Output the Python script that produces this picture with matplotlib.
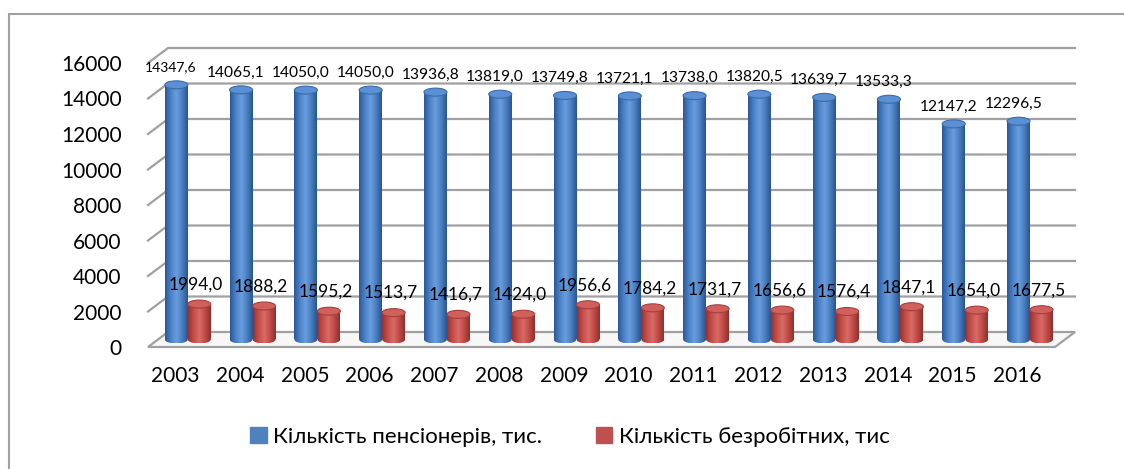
import numpy as np
import matplotlib
matplotlib.use('Agg')
import matplotlib.pyplot as plt
from matplotlib.patches import Ellipse, Rectangle, Polygon, Patch
from matplotlib.colors import LinearSegmentedColormap

# дані
years = ['2003', '2004', '2005', '2006', '2007', '2008', '2009',
         '2010', '2011', '2012', '2013', '2014', '2015', '2016']
pensioners = [14347.6, 14065.1, 14050.0, 14050.0, 13936.8, 13819.0, 13749.8,
              13721.1, 13738.0, 13820.5, 13639.7, 13533.3, 12147.2, 12296.5]
unemployed = [1994.0, 1888.2, 1595.2, 1513.7, 1416.7, 1424.0, 1956.6,
              1784.2, 1731.7, 1656.6, 1576.4, 1847.1, 1654.0, 1677.5]
y_ticks = list(range(0, 16001, 2000))
legend_labels = ['Кількість пенсіонерів, тис.', 'Кількість безробітних, тис']

plt.rcParams['font.family'] = ['Lato', 'Open Sans', 'DejaVu Sans']

W, H = 1124, 469
fig = plt.figure(figsize=(W / 100, H / 100), dpi=100)

# область графіка в пікселях (передній край "3d" підлоги)
px_left, px_right, px_zero, px_top = 148, 1055, 347, 30
px_per_val = 17.75 / 1000
ymax = (px_zero - px_top) / px_per_val
ax = fig.add_axes([px_left / W, (H - px_zero) / H,
                   (px_right - px_left) / W, (px_zero - px_top) / H])
n = len(years)
cat_px = (px_right - px_left) / n
dx = 20 / cat_px          # глибина по x
dy = 15 / px_per_val      # глибина по y
grid_c = '#a0a0a0'

# задня стінка + сітка
for t in y_ticks[1:]:
    ax.plot([-0.5, -0.5 + dx, n - 0.5 + dx], [t, t + dy, t + dy],
            color=grid_c, lw=1.6, clip_on=False, zorder=1)

# підлога
floor = Polygon([(-0.5, 0), (n - 0.5, 0), (n - 0.5 + dx, dy), (-0.5 + dx, dy)],
                closed=True, facecolor='#f7f7f7', edgecolor=grid_c, lw=1.6,
                clip_on=False, zorder=1)
ax.add_patch(floor)

blue_cmap = LinearSegmentedColormap.from_list(
    'b', ['#2c5894', '#4b82c8', '#6a9ddd', '#4a7fc2', '#2a5590'])
red_cmap = LinearSegmentedColormap.from_list(
    'r', ['#98322f', '#c44e4a', '#d86b67', '#c04a46', '#8f302d'])
grad = np.linspace(0, 1, 64).reshape(1, -1)
w = 0.355
eh = 8 / px_per_val


def cylinder(x, bottom, height, cmap, top_c, edge_c, z):
    rect = Rectangle((x - w / 2, bottom), w, height, facecolor='none',
                     edgecolor='none')
    ax.add_patch(rect)
    im = ax.imshow(grad, extent=[x - w / 2, x + w / 2, bottom - eh / 2, bottom + height],
                   aspect='auto', cmap=cmap, zorder=z)
    im.set_clip_path(rect)
    bot = Ellipse((x, bottom), w, eh, facecolor='none', edgecolor='none')
    ax.add_patch(bot)
    im2 = ax.imshow(grad, extent=[x - w / 2, x + w / 2, bottom - eh / 2, bottom + eh / 2],
                    aspect='auto', cmap=cmap, zorder=z)
    im2.set_clip_path(bot)
    ax.add_patch(Ellipse((x, bottom + height), w, eh, facecolor=top_c,
                         edgecolor=edge_c, lw=0.8, zorder=z + 0.1))


base = dy / 2
for i in range(n):
    xc = i + dx / 2 - 0.04
    xb, xr = xc - w / 2, xc + w / 2
    cylinder(xb, base, pensioners[i], blue_cmap, '#5b90d4', '#3a6aab', 3)
    cylinder(xr, base, unemployed[i], red_cmap, '#d0605c', '#a83e3b', 4)
    # перша підпис у оригіналі трохи дрібніша
    ax.text(xb - 0.08, pensioners[i] + base + 980, f'{pensioners[i]:.1f}'.replace('.', ','),
            ha='center', va='center', fontsize=10 if i == 0 else 11.2,
            color='black', zorder=6)
    ax.text(xr - 0.05, unemployed[i] + base + 1100, f'{unemployed[i]:.1f}'.replace('.', ','),
            ha='center', va='center', fontsize=12.5, color='black', zorder=6)

ax.set_xlim(-0.5, n - 0.5)
ax.set_ylim(0, ymax)
ax.set_yticks(y_ticks)
ax.set_yticklabels([str(t) for t in y_ticks])
ax.set_xticks(np.arange(n) - 0.08)
ax.set_xticklabels(years)
ax.tick_params(axis='y', length=0, labelsize=15, pad=19)
ax.tick_params(axis='x', length=0, labelsize=15, pad=14)
for s in ax.spines.values():
    s.set_visible(False)
ax.patch.set_visible(False)

handles = [Patch(color='#4f81bd'), Patch(color='#c0504d')]
fig.legend(handles, legend_labels, loc='center', bbox_to_anchor=(570 / W, (H - 437) / H),
           ncol=2, frameon=False, fontsize=16, handlelength=0.75, handleheight=0.75,
           handletextpad=0.3, columnspacing=2.4)

# рамка
fig.add_artist(Rectangle((9 / W, -0.1), 1.2, (H - 14) / H + 0.1, transform=fig.transFigure,
                         fill=False, edgecolor='#a0a0a0', lw=1.5))

plt.savefig('out.png', dpi=100)
